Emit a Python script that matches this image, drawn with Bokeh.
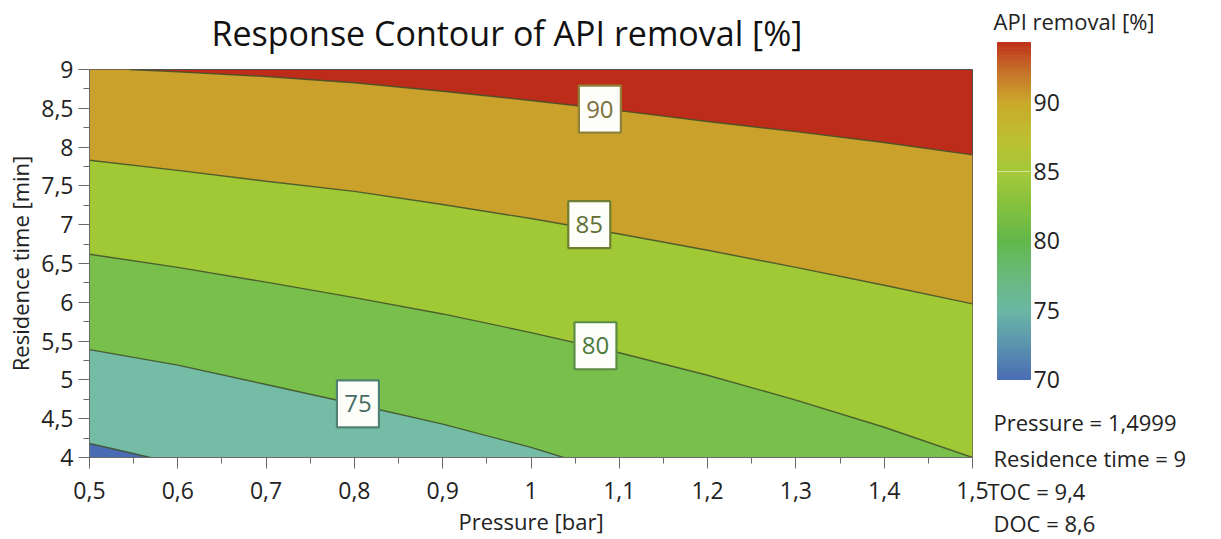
import numpy as np
from bokeh.plotting import figure
from bokeh.models import Range1d, FixedTicker, ColumnDataSource, LinearColorMapper
from bokeh.embed import file_html
from bokeh.resources import INLINE
from bokeh.core.properties import value

# ---------------- data ----------------
title_text = "Response Contour of API removal [%]"
x_label = "Pressure [bar]"
y_label = "Residence time [min]"
cbar_title = "API removal [%]"

x_min, x_max = 0.5, 1.5
y_min, y_max = 4.0, 9.0

x_ticks = [0.5, 0.6, 0.7, 0.8, 0.9, 1.0, 1.1, 1.2, 1.3, 1.4, 1.5]
x_tick_labels = ["0,5", "0,6", "0,7", "0,8", "0,9", "1", "1,1", "1,2", "1,3", "1,4", "1,5"]
x_minor_ticks = [0.55, 0.65, 0.75, 0.85, 0.95, 1.05, 1.15, 1.25, 1.35, 1.45]
y_ticks = [4, 4.5, 5, 5.5, 6, 6.5, 7, 7.5, 8, 8.5, 9]
y_tick_labels = ["4", "4,5", "5", "5,5", "6", "6,5", "7", "7,5", "8", "8,5", "9"]
y_minor_ticks = [4.25, 4.75, 5.25, 5.75, 6.25, 6.75, 7.25, 7.75, 8.25, 8.75]

contour_levels = [70, 75, 80, 85, 90]
c70_x = [0.5, 0.535, 0.569]
c70_y = [4.18, 4.09, 4.0]
c75_x = [0.5, 0.6, 0.7, 0.8, 0.9, 1.0, 1.037]
c75_y = [5.39, 5.19, 4.94, 4.69, 4.43, 4.13, 4.0]
c80_x = [0.5, 0.6, 0.7, 0.8, 0.9, 1.0, 1.1, 1.2, 1.3, 1.4, 1.5]
c80_y = [6.62, 6.45, 6.26, 6.06, 5.85, 5.61, 5.35, 5.06, 4.74, 4.39, 4.0]
c85_x = [0.5, 0.6, 0.7, 0.8, 0.9, 1.0, 1.1, 1.2, 1.3, 1.4, 1.5]
c85_y = [7.83, 7.70, 7.56, 7.43, 7.26, 7.08, 6.88, 6.67, 6.45, 6.22, 5.98]
c90_x = [0.545, 0.6, 0.7, 0.8, 0.9, 1.0, 1.1, 1.2, 1.3, 1.4, 1.5]
c90_y = [9.0, 8.97, 8.91, 8.83, 8.72, 8.60, 8.47, 8.33, 8.20, 8.06, 7.90]

label_text = ["75", "80", "85", "90"]
label_x = [0.804, 1.073, 1.066, 1.078]
label_y = [4.69, 5.44, 7.00, 8.49]

cbar_ticks = [70, 75, 80, 85, 90]
cbar_tick_labels = ["70", "75", "80", "85", "90"]
cbar_min, cbar_max = 70.0, 94.3

info_lines = ["Pressure = 1,4999", "Residence time = 9", "TOC = 9,4", "DOC = 8,6"]

# ---------------- style ----------------
FONT = "Open Sans"
band_colors = ["#4a6cb5", "#74bca6", "#79bf4b", "#a1c935", "#c9a12b", "#bc2c18"]  # <70 ... >90
label_text_colors = ["#456b63", "#4a7a3c", "#5f6e34", "#7a7040"]
label_border_colors = ["#4f8272", "#5a8c44", "#6e7f30", "#8f8238"]
contour_line_color = "#3f4f2c"
cbar_stops = [(70, "#4b6db4"), (72.5, "#5b93ae"), (75, "#6bb7a4"), (77.5, "#6ab97c"),
              (80, "#62b84a"), (82.5, "#84c13e"), (85, "#a4c93a"), (87.5, "#bdbf31"),
              (90, "#caa92b"), (92.2, "#c6752a"), (94.3, "#bf331c")]

W, H = 1221, 539
FR_L, FR_R, FR_T, FR_B = 89, 972, 69, 457
MAIN_W = 990

# ---------------- main figure ----------------
p = figure(frame_width=FR_R - FR_L, frame_height=FR_B - FR_T, output_backend="svg",
           toolbar_location=None, tools="",
           x_range=Range1d(x_min, x_max), y_range=Range1d(y_min, y_max),
           min_border_left=FR_L, min_border_right=MAIN_W - FR_R,
           min_border_top=FR_T, min_border_bottom=H - FR_B)
p.background_fill_color = band_colors[5]
p.border_fill_color = "white"
p.outline_line_color = "#505050"
p.outline_line_width = 1
p.grid.visible = False

contours = [(c70_x, c70_y), (c75_x, c75_y), (c80_x, c80_y), (c85_x, c85_y), (c90_x, c90_y)]


def below_polygon(cx, cy):
    xs, ys = list(cx), list(cy)
    if cx[-1] >= x_max and cy[-1] > y_min:
        xs.append(x_max); ys.append(y_min)
    xs.append(x_min); ys.append(y_min)
    if cy[0] >= y_max and cx[0] > x_min:
        xs.append(x_min); ys.append(y_max)
    return xs, ys


for i in range(len(contours) - 1, -1, -1):
    xs, ys = below_polygon(*contours[i])
    p.patch(xs, ys, fill_color=band_colors[i], line_color=None)

p.multi_line(xs=[c[0] for c in contours], ys=[c[1] for c in contours],
             line_color=contour_line_color, line_width=1.4, line_alpha=0.85)

lab_src = ColumnDataSource(dict(x=label_x, y=label_y, t=label_text,
                                tc=label_text_colors, bc=label_border_colors))
p.rect(x="x", y="y", width=42, height=47, width_units="screen", height_units="screen",
       source=lab_src, fill_color="#fdfdf9", line_color="bc", line_width=2.2)
p.text(x="x", y="y", text="t", source=lab_src, text_color="tc",
       text_font=value(FONT), text_font_size="24px",
       text_align="center", text_baseline="middle")

for ax in (p.xaxis[0], p.yaxis[0]):
    ax.axis_line_color = "#6a6a6a"
    ax.major_tick_line_color = "#6a6a6a"
    ax.minor_tick_line_color = "#6a6a6a"
    ax.major_tick_out = 11
    ax.major_tick_in = 0
    ax.minor_tick_out = 6
    ax.minor_tick_in = 0
    ax.major_label_text_font = FONT
    ax.major_label_text_font_size = "23px"
    ax.major_label_text_color = "#222222"
    ax.axis_label_text_font = FONT
    ax.axis_label_text_font_size = "22px"
    ax.axis_label_text_font_style = "normal"
    ax.axis_label_text_color = "#222222"

p.xaxis.ticker = FixedTicker(ticks=x_ticks, minor_ticks=x_minor_ticks)
p.xaxis.major_label_overrides = dict(zip(x_ticks, x_tick_labels))
p.xaxis.axis_label = x_label
p.xaxis.major_label_standoff = 13
p.xaxis.axis_label_standoff = 4

p.yaxis.ticker = FixedTicker(ticks=y_ticks, minor_ticks=y_minor_ticks)
p.yaxis.major_label_overrides = dict(zip(y_ticks, y_tick_labels))
p.yaxis.axis_label = y_label
p.yaxis.major_label_standoff = 5
p.yaxis.axis_label_standoff = 3

# ---------------- overlay figure: title, colour bar, info (separate root) ----------------
BAR_TOP, BAR_BOT = 42, 379
scale = (BAR_BOT - BAR_TOP) / (cbar_max - cbar_min)
cb_y0 = cbar_min - (H - BAR_BOT) / scale
cb_y1 = cbar_max + BAR_TOP / scale

s = figure(width=W, height=H, output_backend="svg", toolbar_location=None, tools="",
           x_range=Range1d(0, W), y_range=Range1d(H, 0),
           x_axis_location=None, y_axis_location=None,
           min_border_left=0, min_border_right=0, min_border_top=0, min_border_bottom=0)
s.extra_y_ranges = {"cbar": Range1d(cb_y0, cb_y1)}
s.outline_line_color = None
s.grid.visible = False
s.background_fill_alpha = 0
s.border_fill_alpha = 0
s.styles = {"position": "absolute", "left": "0px", "top": "0px", "pointer-events": "none"}

# main title
s.text(x=[211], y=[32], text=[title_text], text_font=value(FONT), text_font_size="34px",
       text_color="#111111", text_align="left", text_baseline="middle")


def hex2rgb(h):
    return np.array([int(h[i:i + 2], 16) for i in (1, 3, 5)], dtype=float)


stop_v = np.array([v for v, _ in cbar_stops])
stop_c = np.array([hex2rgb(c) for _, c in cbar_stops])
palette = []
for v in np.linspace(cbar_min, cbar_max, 256):
    rgb = [np.interp(v, stop_v, stop_c[:, k]) for k in range(3)]
    palette.append("#%02x%02x%02x" % tuple(int(round(c)) for c in rgb))
mapper = LinearColorMapper(palette=palette, low=cbar_min, high=cbar_max)

n = 160
edges = np.linspace(cbar_min, cbar_max, n + 1)
bar_src = ColumnDataSource(dict(bottom=edges[:-1], top=edges[1:],
                                v=(edges[:-1] + edges[1:]) / 2))
BAR_L, BAR_R = 997, 1030
cmap = {"field": "v", "transform": mapper}
s.quad(left=BAR_L, right=BAR_R, bottom="bottom", top="top", source=bar_src,
       fill_color=cmap, line_color=cmap, line_width=1, y_range_name="cbar")
s.segment(x0=BAR_L, x1=BAR_R, y0=85, y1=85, line_color="#e4efb8", line_width=1,
          line_alpha=0.8, y_range_name="cbar")

s.text(x=[BAR_R + 3] * len(cbar_ticks), y=cbar_ticks, text=cbar_tick_labels,
       text_font=value(FONT), text_font_size="23px", text_color="#222222",
       text_align="left", text_baseline="middle", y_range_name="cbar")

s.text(x=[993], y=[20], text=[cbar_title], text_font=value(FONT),
       text_font_size="22px", text_color="#222222", text_align="left", text_baseline="middle")

info_rows = [421, 457, 490, 522]
info_cols = [993, 993, 987, 993]
s.text(x=info_cols, y=info_rows, text=info_lines,
       text_font=value(FONT), text_font_size="22px", text_color="#222222",
       text_align="left", text_baseline="middle")

open("out.html", "w").write(file_html([p, s], INLINE))
